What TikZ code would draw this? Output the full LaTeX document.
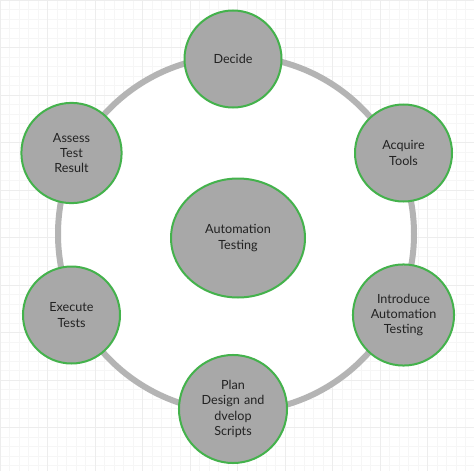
\documentclass[tikz,border=0pt]{standalone}
\usepackage{fontspec}
\setmainfont{Lato}
\usetikzlibrary{shapes.geometric}
\definecolor{ringgray}{RGB}{180,180,180}
\definecolor{nodefill}{RGB}{168,168,168}
\definecolor{nodeedge}{RGB}{68,178,76}
\definecolor{txt}{RGB}{34,34,34}
\definecolor{gridminor}{RGB}{246,246,246}
\definecolor{gridmajor}{RGB}{237,237,237}
\tikzset{
  stepnode/.style={circle, fill=nodefill, draw=nodeedge, line width=2pt,
    minimum size=97pt, inner sep=0pt, text width=92pt, align=center,
    text=txt, font=\fontsize{12.6}{15.3}\selectfont},
  hubnode/.style={ellipse, fill=nodefill, draw=nodeedge, line width=2pt,
    minimum width=134pt, minimum height=119pt, inner sep=0pt, align=center,
    text=txt, font=\fontsize{12.6}{15.3}\selectfont},
  ringline/.style={draw=ringgray, fill=white, line width=6pt},
  gridthin/.style={draw=gridminor, line width=0.6pt},
  gridthick/.style={draw=gridmajor, line width=0.6pt}
}
\begin{document}
\begin{tikzpicture}[x=1pt,y=-1pt]
\useasboundingbox (0,0) rectangle (474,471);
\fill[white] (0,0) rectangle (474,471);
\foreach \i in {0,...,49} {
  \draw[gridthin] (\i*9.5,0) -- (\i*9.5,471);
  \draw[gridthin] (0,\i*9.5) -- (474,\i*9.5);
}
\foreach \i in {0,...,9} {
  \draw[gridthick] (\i*47.5,0) -- (\i*47.5,471);
  \draw[gridthick] (0,\i*47.5) -- (474,\i*47.5);
}
\coordinate (ringc) at (236,234);
\draw[ringline] (ringc) circle[radius=178];
\node[hubnode] (hub) at (238,238) {Automation\\Testing};
\node[stepnode] (decide) at (233,59) {Decide};
\node[stepnode] (acquire) at (403.5,153) {Acquire\\Tools};
\node[stepnode] (introduce) at (403.5,315) {Introduce\\Automation\\Testing};
\node[stepnode] (plan) at (233,409) {Plan\\Design and\\dvelop\\Scripts};
\node[stepnode] (execute) at (71.5,315) {Execute\\Tests};
\node[stepnode] (assess) at (71.5,153) {Assess\\Test\\Result};
\end{tikzpicture}
\end{document}
